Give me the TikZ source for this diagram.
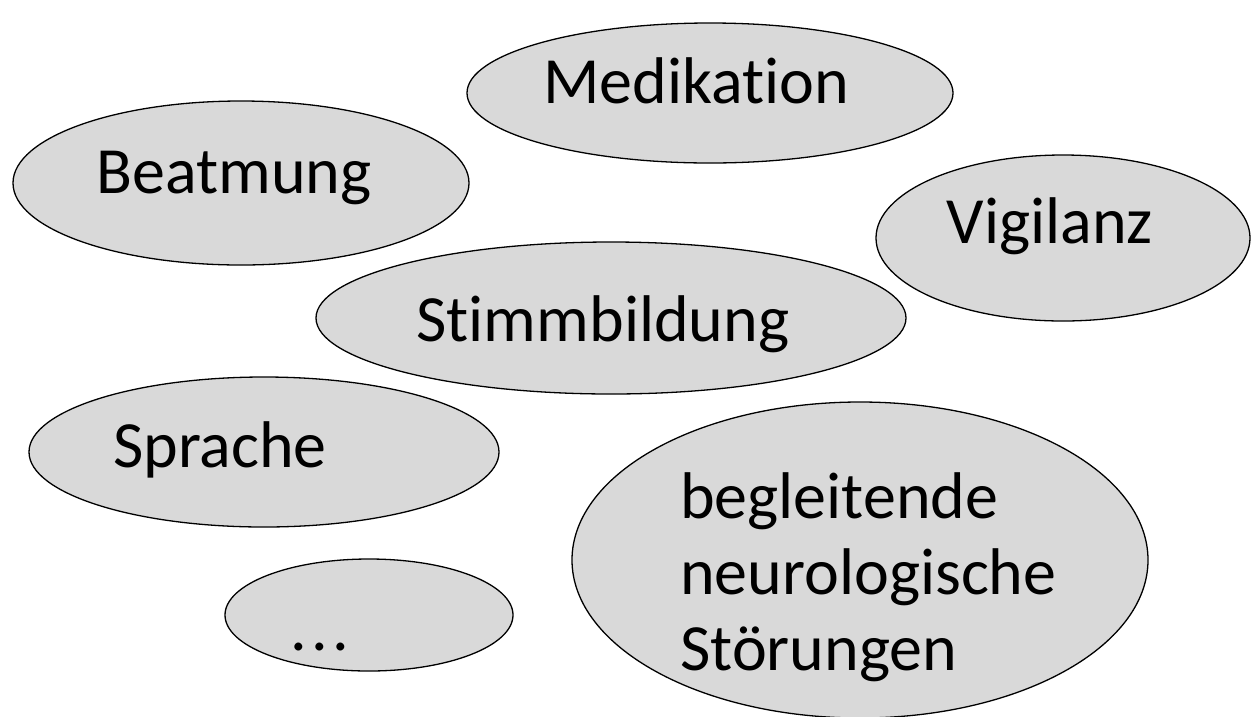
\documentclass[tikz,border=0pt]{standalone}
\usepackage{fontspec}
\setmainfont{Carlito}[Ligatures=NoCommon]
\usepackage{tikz}
\usetikzlibrary{shapes.geometric}
\definecolor{bubblegray}{RGB}{217,217,217}
\tikzstyle{bubble}=[ellipse,draw=black,fill=bubblegray,line width=1.3pt,inner sep=0pt]
\tikzstyle{bubble text}=[anchor=base,inner sep=0pt,font=\fontsize{66}{76}\selectfont]

\begin{document}
\begin{tikzpicture}[x=1pt,y=-1pt]
    % Slide area
    \useasboundingbox (0,0) rectangle (1255,716);
    % First we draw the bubbles
    \foreach \pos/\name/\w/\h in {{(710,93)/medikation/486/140}, {(241,183)/beatmung/456/164},
        {(1063,238)/vigilanz/374/166}, {(611,318)/stimmbildung/590/152}, {(264,452)/sprache/470/150},
        {(369,615)/dots/288/112}, {(860,560)/begleitend/576/316}}
        \node[bubble,minimum width=\w pt,minimum height=\h pt] (\name) at \pos {};

    % Then the words, a bit off centre as on the slide
    \foreach \pos/\name/\word in {{(696,103)/medikation/Medikation}, {(234,193)/beatmung/Beatmung},
        {(1050,243)/vigilanz/Vigilanz}, {(603,341)/stimmbildung/Stimmbildung}, {(220,467)/sprache/Sprache},
        {(320,650)/dots/.\kern0.07em.\kern0.07em.}}
        \node[bubble text] (\name-text) at \pos {\word};

    % base of a multi-line node is its last line
    \node[bubble text,anchor=base west,align=left] (begleitend-text) at (680,670)
        {begleitende\\neurologische\\Störungen};
\end{tikzpicture}
\end{document}
